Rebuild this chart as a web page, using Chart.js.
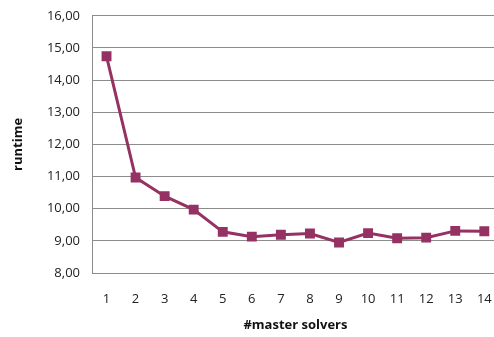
<!DOCTYPE html>
<html>
<head>
<meta charset="utf-8">
<script src="https://cdn.jsdelivr.net/npm/chart.js@4/dist/chart.umd.min.js"></script>
<style>
  html, body { margin: 0; padding: 0; background: #fff; overflow: hidden; }
  #wrap { width: 510px; height: 341px; margin-top: -4px; }
</style>
</head>
<body>
<div id="wrap"><canvas id="chart" width="510" height="341"></canvas></div>
<script>
// data
const solvers = ["1", "2", "3", "4", "5", "6", "7", "8", "9", "10", "11", "12", "13", "14"];
const runtime = [14.74, 10.97, 10.39, 9.97, 9.28, 9.13, 9.19, 9.23, 8.95, 9.24, 9.08, 9.10, 9.31, 9.30];
const yTicks = [8, 9, 10, 11, 12, 13, 14, 15, 16];

const lineColor = "#953163";
const gridColor = "#8c8c8c";
const font = "'Open Sans', 'Liberation Sans', sans-serif";

const ctx = document.getElementById("chart").getContext("2d");

new Chart(ctx, {
  type: "line",
  data: {
    labels: solvers,
    datasets: [{
      label: "runtime",
      data: runtime,
      borderColor: lineColor,
      backgroundColor: lineColor,
      borderWidth: 3,
      pointStyle: "rect",
      pointRadius: 7,
      pointHoverRadius: 7,
      pointBorderWidth: 0,
      tension: 0,
    }],
  },
  options: {
    responsive: false,
    animation: false,
    layout: { padding: { left: 10, top: 0, right: 0, bottom: 4 } },
    plugins: {
      legend: { display: false },
      tooltip: { enabled: false },
    },
    scales: {
      x: {
        type: "category",
        offset: true,
        grid: { display: false, drawTicks: false },
        border: { display: true, color: gridColor, width: 1 },
        ticks: { color: "#222", font: { family: font, size: 13 }, padding: 18, maxRotation: 0, autoSkip: false },
        title: { display: true, text: "#master solvers", color: "#111", font: { family: font, size: 13, weight: "bold" }, padding: { top: 8, bottom: 0 } },
        afterFit: (scale) => { scale.height = 60; },
      },
      y: {
        min: 8,
        max: 16,
        afterBuildTicks: (scale) => { scale.ticks = yTicks.map(v => ({ value: v })); },
        grid: { color: gridColor, lineWidth: 1, drawTicks: false },
        border: { display: true, color: gridColor, width: 1 },
        ticks: {
          color: "#222",
          font: { family: font, size: 13 },
          padding: 12,
          callback: (v) => v.toFixed(2).replace(".", ","),
        },
        title: { display: true, text: "runtime", color: "#111", font: { family: font, size: 13, weight: "bold" }, padding: { top: 0, bottom: 16 } },
        afterFit: (scale) => { scale.width = 82; },
      },
    },
  },
});
</script>
</body>
</html>
